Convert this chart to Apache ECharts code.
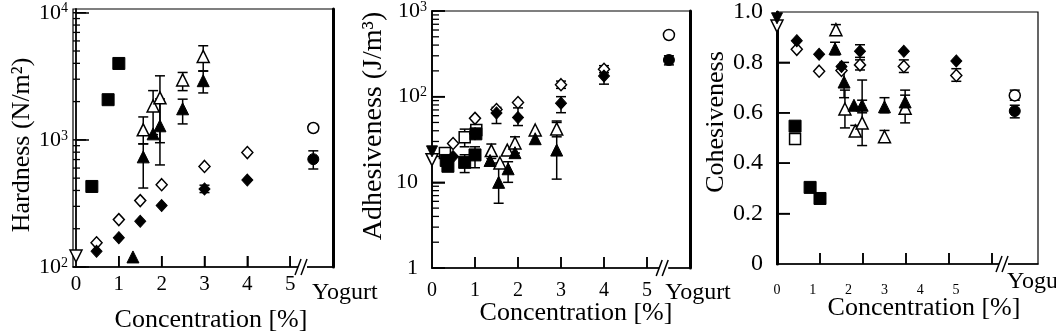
<!DOCTYPE html>
<html>
<head>
<meta charset="utf-8">
<script src="https://cdn.jsdelivr.net/npm/echarts@6/dist/echarts.min.js"></script>
<style>
  html, body { margin: 0; padding: 0; background: #fff; }
  #chart { width: 1056px; height: 333px; }
</style>
</head>
<body>
<div id="chart"></div>
<script>
const FONT = '"Liberation Serif", "Times New Roman", serif';

// tick values
const xTickValues = [1, 2, 3, 4, 5];
const xLabelValues = [0, 1, 2, 3, 4, 5];
const hardMajor = [100, 1000, 10000];
const hardMinor = [200, 300, 400, 500, 600, 700, 800, 900, 2000, 3000, 4000, 5000, 6000, 7000, 8000, 9000];
const adhMajor = [1, 10, 100, 1000];
const adhMinor = [2, 3, 4, 5, 6, 7, 8, 9, 20, 30, 40, 50, 60, 70, 80, 90, 200, 300, 400, 500, 600, 700, 800, 900];
const cohTicks = [0, 0.2, 0.4, 0.6, 0.8, 1.0];

// Hardness (N/m2): [conc %, value, errLow, errHigh]
const hardOpenInvTri = [[0, 122]];
const hardFilledSq = [[0.37, 430], [0.75, 2070], [1.0, 3990]];
const hardOpenDia = [[0.48, 155], [1, 236], [1.5, 333], [2, 444], [3, 618], [4, 795]];
const hardFilledDia = [[0.48, 133], [1, 170], [1.5, 229], [2, 304], [3, 411, 385, 440], [4, 483]];
const hardOpenTri = [[1.57, 1200, 930, 1515], [1.8, 1850, 1100, 2440], [1.96, 2140, 950, 3190], [2.49, 2960, 2440, 3390], [2.97, 4530, 3490, 5500]];
const hardFilledTri = [[1.33, 120], [1.57, 735, 418, 930], [1.8, 1115], [1.96, 1290, 635, 2100], [2.49, 1755, 1335, 2090], [2.97, 2920, 2340, 3470]];
const hardYogOpen = [[5.54, 1240, 1170, 1320]];
const hardYogFilled = [[5.54, 705, 590, 820]];

// Adhesiveness (J/m3)
const adhOpenInvTri = [[0, 18.4]];
const adhFilledInvTri = [[0, 23]];
const adhOpenSq = [[0.3, 22], [0.76, 33.7, 26, 41.8], [1.03, 40.8]];
const adhFilledSq = [[0.37, 15.4], [0.33, 18], [0.76, 17.1, 13, 21], [1.0, 20.9, 14.8, 26], [1.02, 36.8]];
const adhOpenDia = [[0.49, 28.4], [1.0, 55.8], [1.5, 70.8], [2.0, 85.5], [3.0, 138, 125, 152], [4.0, 209, 190, 230]];
const adhFilledDia = [[0.49, 20], [1.0, 37], [1.5, 64.5, 48.6, 75], [2.0, 57, 46, 74], [3.0, 84, 65, 100], [4.0, 174, 140, 215]];
const adhOpenTri = [[1.38, 23.5, 19, 28], [1.58, 16.8], [1.75, 23.8], [1.93, 28.8, 22, 34], [2.4, 40.8], [2.9, 42, 34, 52]];
const adhFilledTri = [[1.35, 18], [1.55, 10, 5.7, 16.8], [1.77, 14.4, 10, 17.4], [1.93, 22.2], [2.4, 32.3], [2.9, 23.8, 10.9, 50]];
const adhYogOpen = [[5.51, 525]];
const adhYogFilled = [[5.51, 268, 235, 300]];

// Cohesiveness (-)
const cohOpenInvTri = [[0, 0.944]];
const cohFilledInvTri = [[0, 0.975]];
const cohFilledSq = [[0.42, 0.547], [0.77, 0.304], [1.0, 0.26]];
const cohOpenSq = [[0.42, 0.496]];
const cohFilledDia = [[0.46, 0.886], [0.98, 0.832], [1.5, 0.784], [1.93, 0.844, 0.82, 0.87], [2.95, 0.844], [4.17, 0.806]];
const cohOpenDia = [[0.46, 0.852], [0.98, 0.765], [1.5, 0.768], [1.93, 0.79, 0.77, 0.81], [2.95, 0.784, 0.76, 0.81], [4.17, 0.748, 0.725, 0.775]];
const cohOpenTri = [[1.37, 0.93, 0.91, 0.95], [1.58, 0.615, 0.54, 0.69], [1.82, 0.528, 0.51, 0.55], [1.98, 0.56, 0.47, 0.73], [2.5, 0.505, 0.49, 0.53], [2.98, 0.618, 0.56, 0.67]];
const cohFilledTri = [[1.35, 0.854, 0.83, 0.88], [1.56, 0.722, 0.66, 0.8], [1.79, 0.63], [1.98, 0.63, 0.6, 0.65], [2.5, 0.624, 0.6, 0.66], [2.98, 0.643, 0.61, 0.69]];
const cohYogOpen = [[5.53, 0.669, 0.65, 0.69]];
const cohYogFilled = [[5.53, 0.607, 0.58, 0.63]];

var myChart = echarts.init(document.getElementById('chart'));
var option = { animation: false, grid: [], xAxis: [], yAxis: [], series: [] };

function powLabel(v) {
    var e = Math.round(Math.log10(v));
    if (e === 0) return '{b|1}{pad|}';
    if (e === 1) return '{b|10}{pad|}';
    return '{b|10}{s|' + e + '}';
}
var powRich = {
    b: { fontSize: 22, fontFamily: FONT, color: '#000' },
    s: { fontSize: 14, fontFamily: FONT, color: '#000', verticalAlign: 'top' },
    pad: { width: 9 }
};

function scatter(xi, yi, data, symbol, filled, size, rotate) {
    return {
        type: 'scatter', xAxisIndex: xi, yAxisIndex: yi, clip: false,
        data: data.map(d => [d[0], d[1]]),
        symbol: symbol, symbolSize: size, symbolRotate: rotate || 0,
        itemStyle: filled ? { color: '#000', borderColor: '#000', borderWidth: 1, opacity: 1 }
                          : { color: '#fff', borderColor: '#000', borderWidth: 1.5, opacity: 1 },
        z: filled ? 4 : 3
    };
}

// error bars and inward tick marks share one custom series per panel.
// rows: [x, y1, y2, kind]; kind 0 = error bar, 1 = x tick, 2 = major y tick, 3 = minor y tick
function frameAndBars(xi, yi, p, groups) {
    var rows = [];
    groups.forEach(g => g.forEach(d => { if (d.length === 4) rows.push([d[0], d[2], d[3], 0]); }));
    xTickValues.forEach(v => rows.push([v, p.yMin, p.yMin, 1]));
    p.major.forEach(v => rows.push([p.xMin, v, v, 2]));
    p.minor.forEach(v => rows.push([p.xMin, v, v, 3]));
    return {
        type: 'custom', xAxisIndex: xi, yAxisIndex: yi, data: rows, z: 2, clip: false,
        renderItem: function (params, api) {
            var kind = api.value(3);
            var lo = api.coord([api.value(0), api.value(1)]);
            var hi = api.coord([api.value(0), api.value(2)]);
            var st = { stroke: '#000', lineWidth: kind === 3 ? 1.3 : 1.5 };
            if (kind === 1) {
                return { type: 'group', children: [
                    { type: 'line', shape: { x1: lo[0], y1: lo[1], x2: lo[0], y2: lo[1] - 11 }, style: st } ] };
            }
            if (kind === 2 || kind === 3) {
                var len = kind === 2 ? 13 : 7;
                return { type: 'group', children: [
                    { type: 'line', shape: { x1: lo[0], y1: lo[1], x2: lo[0] + len, y2: lo[1] }, style: st } ] };
            }
            return { type: 'group', children: [
                { type: 'line', shape: { x1: lo[0], y1: lo[1], x2: hi[0], y2: hi[1] }, style: st },
                { type: 'line', shape: { x1: lo[0] - 5, y1: lo[1], x2: lo[0] + 5, y2: lo[1] }, style: st },
                { type: 'line', shape: { x1: hi[0] - 5, y1: hi[1], x2: hi[0] + 5, y2: hi[1] }, style: st }
            ]};
        }
    };
}

function axisBreak(xi, yi, at, dx, dy) {
    return {
        type: 'custom', xAxisIndex: xi, yAxisIndex: yi, data: [at], z: 6,
        renderItem: function (params, api) {
            var p = api.coord([api.value(0), api.value(1)]);
            var st = { stroke: '#000', lineWidth: 1.5 };
            return { type: 'group', children: [
                { type: 'rect', shape: { x: p[0] - 5, y: p[1] - 2, width: 9, height: 4 }, style: { fill: '#fff' } },
                { type: 'line', shape: { x1: p[0] - 8, y1: p[1] + 8, x2: p[0] - 2, y2: p[1] - 8 }, style: st },
                { type: 'line', shape: { x1: p[0] - 2, y1: p[1] + 8, x2: p[0] + 4, y2: p[1] - 8 }, style: st },
                { type: 'text', x: p[0] + dx, y: p[1] + dy,
                  style: { text: 'Yogurt', font: '24px ' + FONT, fill: '#000', verticalAlign: 'middle', textVerticalAlign: 'middle' } }
            ]};
        }
    };
}

function addPanel(p) {
    var gi = option.grid.length;
    option.grid.push({ left: p.left, top: p.top, width: p.width, height: p.height,
        show: true, borderColor: '#000', borderWidth: 1.2 });
    var xi = option.xAxis.length;
    option.xAxis.push({
        type: 'value', gridIndex: gi, min: p.xMin, max: p.xMax, position: 'bottom',
        axisLine: { show: true, lineStyle: { color: '#000', width: 1.5 } },
        splitLine: { show: false },
        axisTick: { show: true, inside: true, length: 11, customValues: xTickValues, lineStyle: { color: '#000', width: 1.5 } },
        axisLabel: p.xLabelSmall ? { show: false } : {
            show: true, customValues: xLabelValues, fontSize: p.xFont, fontFamily: FONT, color: '#000', margin: p.xMargin
        }
    });
    if (p.xLabelSmall) {
        option.xAxis.push({
            type: 'value', gridIndex: gi, min: 0, max: p.xLabelMax, position: 'bottom',
            axisLine: { show: false }, axisTick: { show: false }, splitLine: { show: false },
            axisLabel: { show: true, customValues: xLabelValues, fontSize: 14, fontFamily: FONT, color: '#000', margin: p.xMargin }
        });
    }
    var yi = option.yAxis.length;
    if (p.log) {
        option.yAxis.push({
            type: 'log', logBase: 10, gridIndex: gi, min: p.yMin, max: p.yMax, position: 'left',
            axisLine: { show: true, lineStyle: { color: '#000', width: 1.8 } },
            splitLine: { show: false }, minorTick: { show: false },
            axisTick: { show: true, inside: true, length: 13, customValues: p.major, lineStyle: { color: '#000', width: 1.5 } },
            axisLabel: { show: true, customValues: p.major, formatter: powLabel, rich: powRich, margin: 5 }
        });
    } else {
        option.yAxis.push({
            type: 'value', gridIndex: gi, min: p.yMin, max: p.yMax, position: 'left',
            axisLine: { show: true, lineStyle: { color: '#000', width: 1.8 } },
            splitLine: { show: false },
            axisTick: { show: true, inside: true, length: 13, customValues: p.major, lineStyle: { color: '#000', width: 1.5 } },
            axisLabel: { show: true, customValues: cohTicks, fontSize: 24, fontFamily: FONT, color: '#000', margin: 14,
                formatter: v => v === 0 ? '0' : v.toFixed(1) }
        });
    }
    // thick right frame line
    option.yAxis.push({
        type: 'value', gridIndex: gi, position: 'right', min: 0, max: 1,
        axisLine: { show: true, lineStyle: { color: '#000', width: 3 } },
        axisTick: { show: false }, axisLabel: { show: false }, splitLine: { show: false }
    });
    var s = p.sets;
    option.series.push(frameAndBars(xi, yi, p, [s.openDia, s.filledDia, s.openTri, s.filledTri, s.openSq || [], s.filledSq, s.yogOpen, s.yogFilled]));
    option.series.push(scatter(xi, yi, s.openInvTri, 'triangle', false, 12, 180));
    if (s.filledInvTri) option.series.push(scatter(xi, yi, s.filledInvTri, 'triangle', true, 11, 180));
    if (s.openSq) option.series.push(scatter(xi, yi, s.openSq, 'rect', false, 11));
    option.series.push(scatter(xi, yi, s.filledSq, 'rect', true, 12));
    option.series.push(scatter(xi, yi, s.openDia, 'diamond', false, [11, 12]));
    option.series.push(scatter(xi, yi, s.filledDia, 'diamond', true, [11, 12]));
    option.series.push(scatter(xi, yi, s.openTri, 'triangle', false, 12));
    option.series.push(scatter(xi, yi, s.filledTri, 'triangle', true, 12));
    option.series.push(scatter(xi, yi, s.yogOpen, 'circle', false, 11));
    option.series.push(scatter(xi, yi, s.yogFilled, 'circle', true, 11));
    option.series.push(axisBreak(xi, yi, [p.breakX, p.yMin], p.yogDx, p.yogDy));
}

addPanel({
    left: 73, top: 9, width: 260, height: 258, xMin: -0.07, xMax: 6.0,
    log: true, yMin: 100, yMax: 10700, major: hardMajor, minor: hardMinor,
    xFont: 21, xMargin: 7, breakX: 5.3, yogDx: 9, yogDy: 26,
    sets: { openInvTri: hardOpenInvTri, filledSq: hardFilledSq, openDia: hardOpenDia, filledDia: hardFilledDia,
            openTri: hardOpenTri, filledTri: hardFilledTri, yogOpen: hardYogOpen, yogFilled: hardYogFilled }
});
addPanel({
    left: 432, top: 10, width: 258, height: 258, xMin: 0, xMax: 6.0,
    log: true, yMin: 1, yMax: 1000, major: adhMajor, minor: adhMinor,
    xFont: 20, xMargin: 13, breakX: 5.4, yogDx: 1, yogDy: 25,
    sets: { openInvTri: adhOpenInvTri, filledInvTri: adhFilledInvTri, openSq: adhOpenSq, filledSq: adhFilledSq,
            openDia: adhOpenDia, filledDia: adhFilledDia, openTri: adhOpenTri, filledTri: adhFilledTri,
            yogOpen: adhYogOpen, yogFilled: adhYogFilled }
});
addPanel({
    left: 777, top: 4, width: 261, height: 260, xMin: 0, xMax: 6.07,
    log: false, yMin: 0, yMax: 1.0, major: [0.2, 0.4, 0.6, 0.8], minor: [],
    xLabelSmall: true, xLabelMax: 7.29, xMargin: 19, breakX: 5.28, yogDx: 3, yogDy: 18,
    sets: { openInvTri: cohOpenInvTri, filledInvTri: cohFilledInvTri, openSq: cohOpenSq, filledSq: cohFilledSq,
            openDia: cohOpenDia, filledDia: cohFilledDia, openTri: cohOpenTri, filledTri: cohFilledTri,
            yogOpen: cohYogOpen, yogFilled: cohYogFilled }
});

function label(text, x, y, size, rot) {
    return { type: 'text', x: x, y: y, rotation: rot || 0, z: 10,
        style: { text: text, font: size + 'px ' + FONT, fill: '#000',
                 align: 'center', verticalAlign: 'middle', textAlign: 'center', textVerticalAlign: 'middle' } };
}
option.graphic = [
    label('Concentration [%]', 211, 320, 26),
    label('Concentration [%]', 576, 313, 26),
    label('Concentration [%]', 924, 308, 26),
    label('Hardness (N/m\u00B2)', 22, 145, 26, Math.PI / 2),
    label('Adhesiveness (J/m\u00B3)', 374, 126, 28, Math.PI / 2),
    label('Cohesiveness', 716, 122, 26, Math.PI / 2)
];

myChart.setOption(option);
</script>
</body>
</html>
